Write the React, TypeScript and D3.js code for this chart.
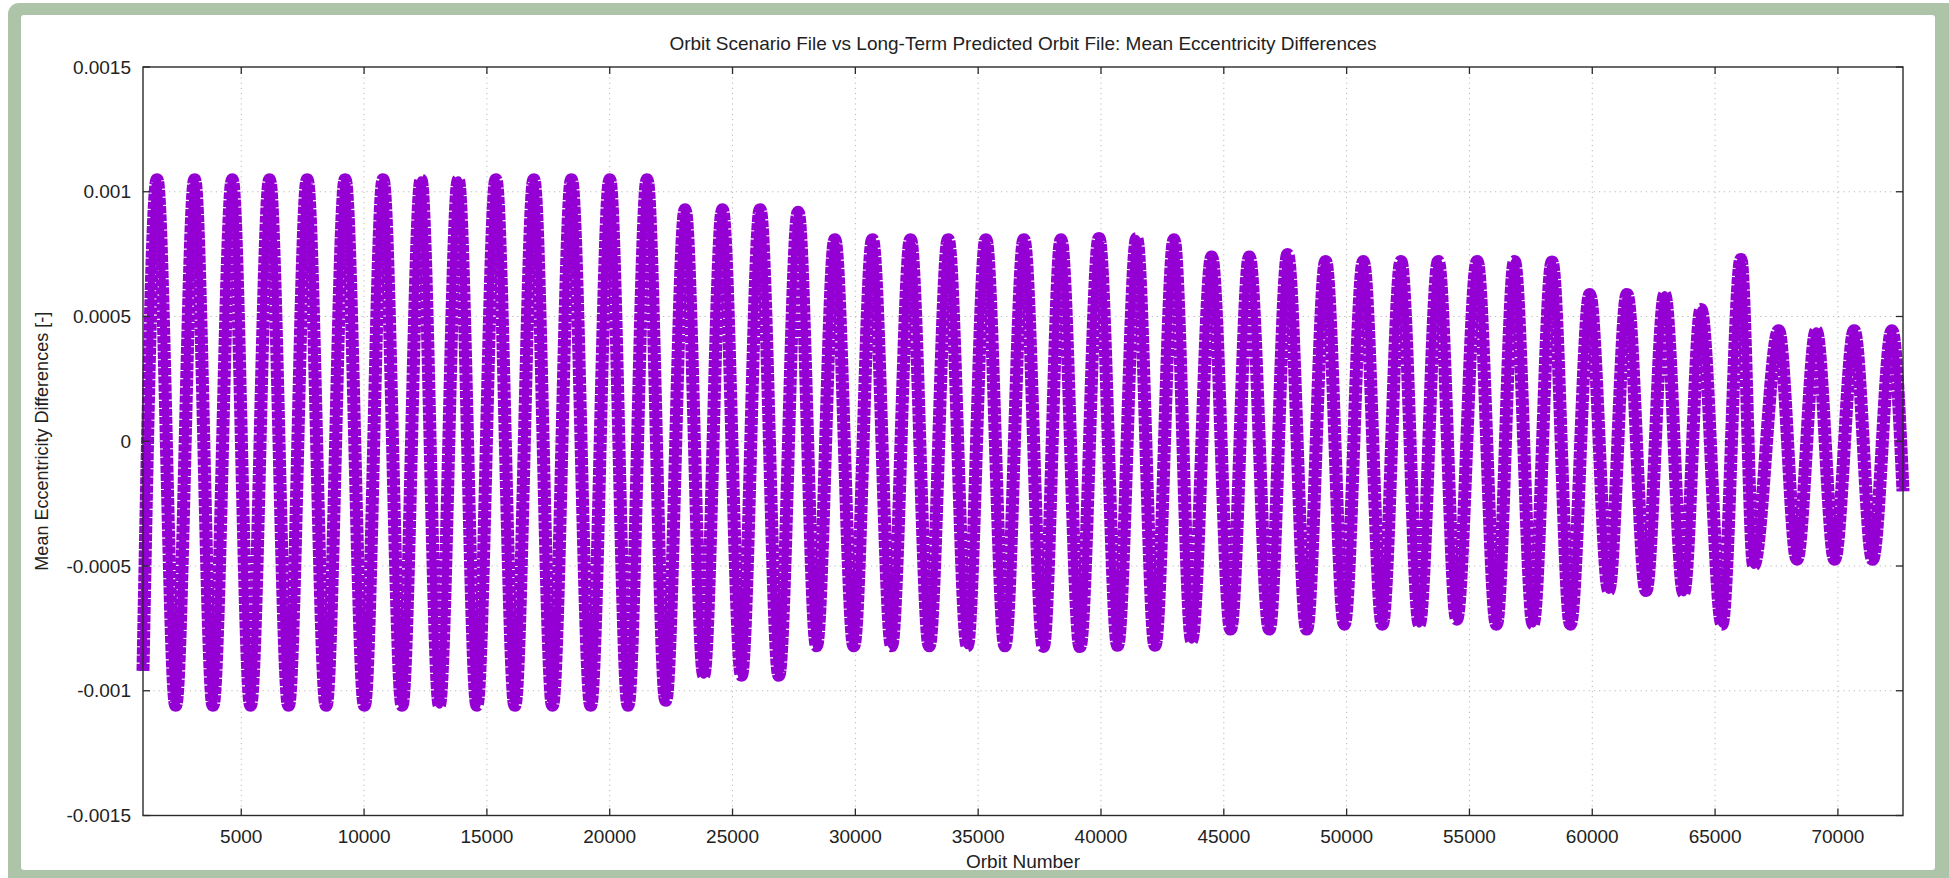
import React from "react";
import * as d3 from "d3";

const W = 1949;
const H = 878;

// ---- data ----
const peakOrbits = [
  1572, 3103, 4634, 6152, 7683, 9228, 10772, 12317, 13835, 15366, 16911, 18442, 20000, 21520,
  23068, 24588, 26123, 27670,
  29163, 30697, 32245, 33780, 35314, 36862, 38372, 39919, 41452, 42972,
  44505, 46038, 47599, 49145, 50679, 52212, 53732, 55312, 56831, 58363,
  59896, 61414, 62947, 64425, 66052,
  67585, 69117, 70663, 72196,
];
const peakValues = [
  0.001048, 0.001048, 0.001048, 0.001048, 0.001048, 0.001048, 0.001048, 0.001048, 0.001048, 0.001048, 0.001048, 0.001048, 0.001048, 0.001048,
  0.000928, 0.000928, 0.000928, 0.000918,
  0.000808, 0.000808, 0.000808, 0.000808, 0.000808, 0.000808, 0.000808, 0.000813, 0.000813, 0.000808,
  0.000738, 0.000738, 0.000748, 0.00072, 0.00072, 0.00072, 0.00072, 0.00072, 0.00072, 0.000718,
  0.000588, 0.000588, 0.000588, 0.000528, 0.000728,
  0.000443, 0.000443, 0.000443, 0.000443,
];
const troughOrbits = [
  2331, 3848, 5379, 6924, 8455, 10014, 11545, 13062, 14593, 16138, 17669, 19226, 20747, 22281,
  23828, 25362, 26883,
  28417, 29937, 31472, 33006, 34554, 36088, 37653, 39145, 40678, 42198, 43691,
  45278, 46852, 48372, 49905, 51452, 52958, 54478, 56098, 57590, 59109,
  60669, 62188, 63720, 65280, 66569,
  68331, 69864, 71410,
];
const troughValues = [
  -0.001058, -0.001058, -0.001058, -0.001058, -0.001058, -0.001058, -0.001058, -0.001058, -0.001058, -0.001058, -0.001058, -0.001058, -0.001058, -0.001038,
  -0.000938, -0.000938, -0.000938,
  -0.00082, -0.00082, -0.00082, -0.00082, -0.00082, -0.00082, -0.000823, -0.000823, -0.000818, -0.000818, -0.000798,
  -0.000753, -0.000753, -0.000753, -0.000733, -0.000733, -0.000733, -0.000713, -0.000733, -0.000733, -0.000733,
  -0.000598, -0.000598, -0.000608, -0.000733, -0.000498,
  -0.000473, -0.000473, -0.000473,
];
const seriesStart: [number, number] = [1000, -0.00092];
const seriesEnd: [number, number] = [72650, -0.0002];

const xDomain = [1000, 72650];
const yDomain = [-0.0015, 0.0015];
const xTicks = [5000, 10000, 15000, 20000, 25000, 30000, 35000, 40000, 45000, 50000, 55000, 60000, 65000, 70000];
const yTicks = [-0.0015, -0.001, -0.0005, 0, 0.0005, 0.001, 0.0015];

const titleText = "Orbit Scenario File vs Long-Term Predicted Orbit File: Mean Eccentricity Differences";
const xLabel = "Orbit Number";
const yLabel = "Mean Eccentricity Differences [-]";

const FONT = "'Liberation Sans', Arial, Helvetica, sans-serif";

export default function App() {
  const plot = { left: 143, right: 1903, top: 67, bottom: 815.5 };
  const x = d3.scaleLinear().domain(xDomain).range([plot.left, plot.right]);
  const y = d3.scaleLinear().domain(yDomain).range([plot.bottom, plot.top]);

  const pts: [number, number][] = [seriesStart];
  peakOrbits.forEach((o, i) => pts.push([o, peakValues[i]]));
  troughOrbits.forEach((o, i) => pts.push([o, troughValues[i]]));
  pts.push(seriesEnd);
  pts.sort((a, b) => a[0] - b[0]);

  const line = d3
    .line<[number, number]>()
    .x((d) => x(d[0]))
    .y((d) => y(d[1]))
    .curve(d3.curveMonotoneX);
  const pathD = line(pts) || "";

  const tickLen = 7;
  const axisColor = "#2a2a2a";
  const gridColor = "#b8b8b8";
  const textColor = "#222";
  const fs = 19;
  const purple = "#9400d3";

  return (
    <div style={{ position: "absolute", left: 0, top: 0, width: W, height: H, background: "#fff" }}>
      <svg width={W} height={H} style={{ display: "block" }}>
        {/* framed panel */}
        <rect x={8} y={3} width={W + 20} height={H + 20} rx={11} fill="#aec4a8" />
        <rect x={21} y={15} width={1935 - 21} height={870 - 15} rx={3} fill="#ffffff" />

        {/* grid */}
        {xTicks.map((t) => (
          <line key={"gx" + t} x1={x(t)} x2={x(t)} y1={plot.top} y2={plot.bottom}
            stroke={gridColor} strokeWidth={1} strokeDasharray="1.2,4" />
        ))}
        {yTicks.filter((t) => t > yDomain[0] && t < yDomain[1]).map((t) => (
          <line key={"gy" + t} x1={plot.left} x2={plot.right} y1={y(t)} y2={y(t)}
            stroke={gridColor} strokeWidth={1} strokeDasharray="1.2,4" />
        ))}

        {/* data: dense point band drawn as a thick textured stroke */}
        <path d={pathD} fill="none" stroke={purple} strokeWidth={13} strokeLinejoin="round" strokeLinecap="butt"
          strokeDasharray="7,1.1" />
        <path d={pathD} fill="none" stroke={purple} strokeWidth={7} strokeLinejoin="round" strokeLinecap="butt" />

        {/* border */}
        <rect x={plot.left} y={plot.top} width={plot.right - plot.left} height={plot.bottom - plot.top}
          fill="none" stroke={axisColor} strokeWidth={1.4} />

        {/* ticks */}
        {xTicks.map((t) => (
          <g key={"tx" + t}>
            <line x1={x(t)} x2={x(t)} y1={plot.bottom} y2={plot.bottom - tickLen} stroke={axisColor} strokeWidth={1.3} />
            <line x1={x(t)} x2={x(t)} y1={plot.top} y2={plot.top + tickLen} stroke={axisColor} strokeWidth={1.3} />
            <text x={x(t)} y={843} textAnchor="middle" fontFamily={FONT} fontSize={fs} fill={textColor}>{String(t)}</text>
          </g>
        ))}
        {yTicks.map((t) => (
          <g key={"ty" + t}>
            <line x1={plot.left} x2={plot.left + tickLen} y1={y(t)} y2={y(t)} stroke={axisColor} strokeWidth={1.3} />
            <line x1={plot.right} x2={plot.right - tickLen} y1={y(t)} y2={y(t)} stroke={axisColor} strokeWidth={1.3} />
            <text x={131} y={y(t)} dy="0.35em" textAnchor="end" fontFamily={FONT} fontSize={fs} fill={textColor}>{String(t)}</text>
          </g>
        ))}

        {/* labels */}
        <text x={(plot.left + plot.right) / 2} y={50} textAnchor="middle" fontFamily={FONT} fontSize={fs} fill={textColor}>{titleText}</text>
        <text x={(plot.left + plot.right) / 2} y={868} textAnchor="middle" fontFamily={FONT} fontSize={fs} fill={textColor}>{xLabel}</text>
        <text transform={`translate(48,${(plot.top + plot.bottom) / 2}) rotate(-90)`} textAnchor="middle"
          fontFamily={FONT} fontSize={fs - 1} fill={textColor}>{yLabel}</text>
      </svg>
    </div>
  );
}
